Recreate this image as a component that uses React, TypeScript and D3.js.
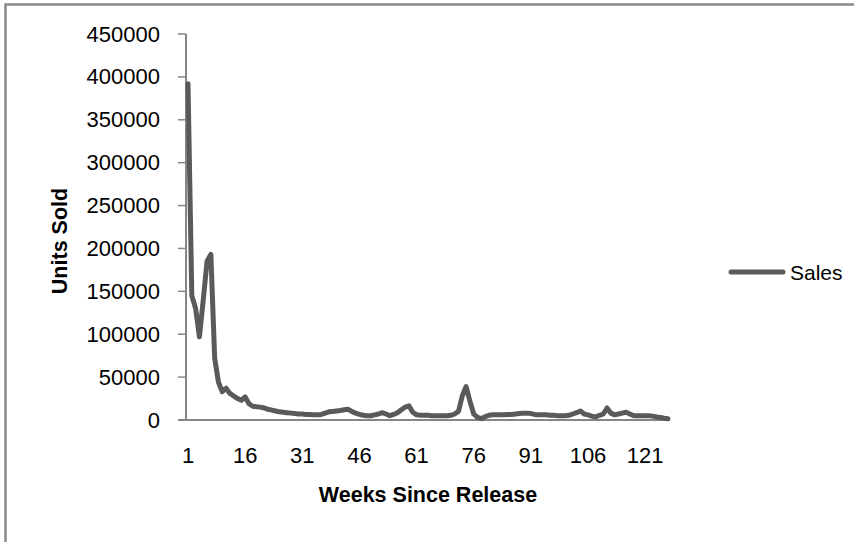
import React from "react";
import * as d3 from "d3";

const sales: number[] = [
  392000, 145000, 130000, 97000, 140000, 185000, 193000, 72000, 44000, 33000,
  37000, 31000, 28000, 25000, 23000, 27000, 19000, 16000, 15500, 15000,
  14000, 12500, 11500, 10500, 9500, 9000, 8500, 8000, 7500, 7000,
  7000, 6500, 6500, 6000, 6000, 6500, 8000, 9500, 10000, 10500,
  11000, 12000, 12500, 10000, 8000, 6500, 5500, 5000, 5000, 6000,
  7000, 8500, 7000, 5000, 6500, 8500, 12000, 15000, 16500, 9000,
  6000, 5500, 5500, 5500, 5000, 5000, 5000, 5000, 5000, 5500,
  7000, 10000, 28000, 39000, 22000, 7000, 3000, 1500, 4000, 5500,
  6000, 6000, 6000, 6000, 6500, 6500, 7000, 7500, 8000, 8000,
  7500, 6500, 6000, 6000, 6000, 5500, 5500, 5000, 5000, 5000,
  5500, 7000, 8500, 10500, 7000, 6000, 4500, 3500, 5500, 7000,
  14000, 8000, 6000, 7000, 8000, 9000, 7000, 5000, 5000, 5000,
  5000, 5000, 4500, 3500, 3000, 2000, 1500,
];
const weeks: number[] = sales.map((_, i) => i + 1);
const xTickLabels: number[] = [1, 16, 31, 46, 61, 76, 91, 106, 121];
const yTicks: number[] = [0, 50000, 100000, 150000, 200000, 250000, 300000, 350000, 400000, 450000];
const seriesName = "Sales";
const xTitle = "Weeks Since Release";
const yTitle = "Units Sold";

export default function App() {
  const W = 854;
  const H = 542;
  const x = d3.scaleLinear().domain([1, weeks.length]).range([188, 668]);
  const y = d3.scaleLinear().domain([0, 450000]).range([420, 34]);
  const line = d3
    .line<number>()
    .x((_, i) => x(weeks[i]))
    .y((d) => y(d));
  const font = "'Liberation Sans', Arial, sans-serif";
  const axisColor = "#868686";
  const lineColor = "#5a5a5a";
  return (
    <svg
      width={W}
      height={H}
      style={{ position: "absolute", left: 0, top: 0, background: "#fff" }}
    >
      <rect x={0} y={0} width={W} height={H} fill="#fff" />
      <rect x={5.5} y={4.5} width={W + 20} height={H + 20} fill="none" stroke="#888" strokeWidth={2.5} />
      {/* y axis */}
      <line x1={186} x2={186} y1={y(450000)} y2={y(0) + 1} stroke={axisColor} strokeWidth={2} />
      {yTicks.map((t) => (
        <g key={t}>
          <line x1={178} x2={186} y1={y(t)} y2={y(t)} stroke={axisColor} strokeWidth={1.5} />
          <text
            x={160}
            y={y(t)}
            textAnchor="end"
            dominantBaseline="central"
            fontFamily={font}
            fontSize={22}
            fill="#000"
          >
            {t}
          </text>
        </g>
      ))}
      {/* x axis */}
      <line x1={178} x2={670} y1={y(0)} y2={y(0)} stroke={axisColor} strokeWidth={2} />
      {xTickLabels.map((t) => (
        <text
          key={t}
          x={x(t)}
          y={455}
          textAnchor="middle"
          dominantBaseline="central"
          fontFamily={font}
          fontSize={22}
          fill="#000"
        >
          {t}
        </text>
      ))}
      <path
        d={line(sales) || ""}
        fill="none"
        stroke={lineColor}
        strokeWidth={5}
        strokeLinejoin="round"
        strokeLinecap="round"
      />
      <text
        x={428}
        y={495}
        textAnchor="middle"
        dominantBaseline="central"
        fontFamily={font}
        fontWeight="bold"
        fontSize={21.5}
        fill="#000"
      >
        {xTitle}
      </text>
      <text
        transform={`translate(60,241) rotate(-90)`}
        textAnchor="middle"
        dominantBaseline="central"
        fontFamily={font}
        fontWeight="bold"
        fontSize={21.5}
        fill="#000"
      >
        {yTitle}
      </text>
      {/* legend */}
      <line x1={731} x2={783} y1={272} y2={272} stroke={lineColor} strokeWidth={5} strokeLinecap="round" />
      <text
        x={790}
        y={272}
        dominantBaseline="central"
        fontFamily={font}
        fontSize={21}
        fill="#000"
      >
        {seriesName}
      </text>
    </svg>
  );
}
